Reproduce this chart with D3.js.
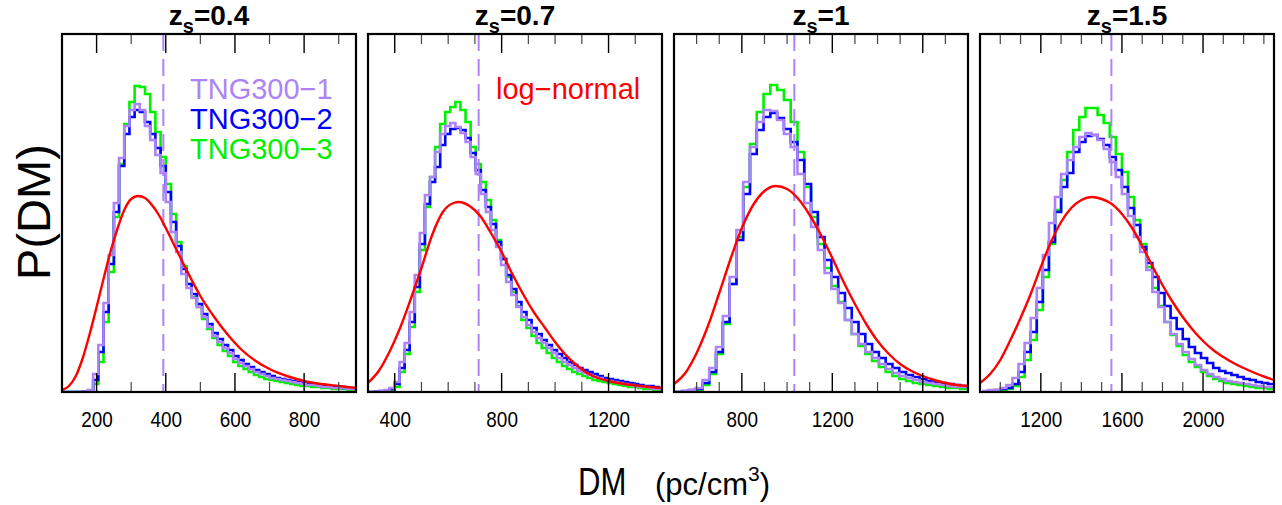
<!DOCTYPE html>
<html><head><meta charset="utf-8">
<script src="https://cdn.jsdelivr.net/npm/d3@7"></script>
<style>body{margin:0;background:#fff}svg{display:block}</style>
</head><body>
<svg id="chart" width="1282" height="505"></svg>
<script>
// ---------------- data ----------------
const redshifts = ["0.4", "0.7", "1", "1.5"];
const dmDomains = [[100, 950], [300, 1400], [500, 1800], [900, 2350]];
const majorTicks = [[200, 400, 600, 800], [400, 800, 1200], [800, 1200, 1600], [1200, 1600, 2000]];
const minorStep = 100;
const binStart = [100, 304, 506, 910];
const binWidth = [15, 19, 30, 30];
const meanDM = [393, 714, 1032, 1548];
const seriesNames = ["TNG300\u22121", "TNG300\u22122", "TNG300\u22123"];
const fitName = "log\u2212normal";

// P(DM), arbitrary normalisation, one value per DM bin
const tng1_z04 = [0,0,0,0,0.5, 2,18,47,89,137, 189,234,266,282,288, 282,266,252,237,219, 190,160,140,118,104, 94,85,75,65,56, 50,44,39,33,29, 26,23,20,18,16, 14,13,12,11,10, 9,8,7,7,6, 5,5,4,4,4, 3,3];
const tng2_z04 = [0,0,0,0,0.5, 1,12,40,80,128, 180,226,258,275,282, 280,270,258,244,226, 200,170,146,123,108, 98,88,78,68,59, 53,47,42,36,32, 28,25,22,20,18, 16,14,13,12,11, 10,9,8,8,7, 6,6,5,5,4, 4,4];
const tng3_z04 = [0,0,0,0,0, 0,8,30,70,120, 175,228,268,290,306, 305,298,280,260,235, 208,178,150,126,108, 95,85,73,63,54, 47,41,36,30,26, 23,20,17,15,13, 12,11,10,9,8, 7,6,6,5,5, 4,4,3,3,3, 2,2];

const tng1_z07 = [0,0.5,1,2,4, 10,30,49,80,117, 159,197,215,240,258, 266,269,265,259,250, 235,218,198,180,162, 145,127,110,97,85, 75,67,60,54,49, 44,39,34,30,27, 24,21,19,17,15, 14,12,11,10,9, 8,7,6,5,5, 4,3,3];
const tng2_z07 = [0,0.5,1,1,3, 8,24,42,70,105, 148,188,210,225,247, 258,263,264,262,254, 239,222,202,185,168, 150,133,117,103,90, 80,72,64,58,52, 47,42,38,34,30, 27,24,22,20,18, 16,14,13,12,11, 10,9,8,7,6, 6,5,4];
const tng3_z07 = [0,0,0.5,1,2, 5,20,38,65,100, 142,185,215,245,268, 280,285,290,282,270, 245,228,210,192,172, 152,133,115,100,86, 72,64,56,49,44, 39,34,30,26,23, 20,18,16,14,12, 11,10,9,8,7, 6,5,5,4,3, 3,2,2];

const tng1_z1 = [0,1,2,4,12, 24,45,76,115,162, 210,245,270,282,281, 272,258,245,218,189, 165,142,119,103,89, 72,58,48,40,34, 28,23,19,16,14, 12,10,9,8,7, 6,5,5];
const tng2_z1 = [0,1,2,3,9, 20,40,70,108,152, 198,238,262,275,279, 274,263,250,232,208, 180,155,132,115,99, 84,70,58,48,40, 34,28,24,20,17, 15,13,11,10,9, 8,7,6];
const tng3_z1 = [0,0,1,2,7, 18,38,68,108,155, 205,248,280,298,307, 302,292,270,240,205, 175,148,124,106,90, 72,58,46,38,31, 25,20,16,13,11, 9,8,7,6,5, 4,4,3];

const tng1_z15 = [1,2,2,4,7, 14,28,49,74,104, 137,169,195,218,232, 245,255,259,257,252, 243,230,215,198,176, 155,140,122,100,85, 70,58,48,40,33, 27,22,18,15,13, 11,10,9,8,7, 6,5,5];
const tng2_z15 = [0,1,2,3,4, 8,20,40,60,90, 122,150,180,205,219, 240,250,256,257,253, 247,235,222,205,184, 167,145,129,115,99, 86,74,63,53,45, 39,34,29,24,21, 19,17,15,13,12, 10,9,8];
const tng3_z15 = [0,0,1,2,3, 6,15,32,52,82, 115,148,182,212,240, 262,275,284,284,277, 269,255,238,220,195, 172,148,125,104,86, 70,57,46,37,30, 25,20,16,13,11, 9,8,7,6,5, 4,4,3];

// log-normal fit, sampled along DM
const fitDM_z04 = [100,120,140,160,180,200,220,240,260,280,300,320,340,360,380,400,430,460,500,540,580,620,660,700,750,800,850,900,950];
const fitP_z04  = [2,6,16,34,58,85,113,140,163,182,193,196,194,187,177,164,143,122,96,75,57,42,31,23,16,11,8,6,4];
const fitDM_z07 = [300,340,380,420,460,500,540,580,620,640,680,720,760,800,840,880,920,960,1000,1040,1080,1120,1160,1200,1260,1320,1400];
const fitP_z07  = [9,21,40,64,93,124,157,180,189,190,186,176,159,140,118,98,80,65,50,37,27,19,14,11,8,6,4];
const fitDM_z1  = [500,550,600,650,700,750,800,850,900,950,1000,1050,1100,1150,1200,1250,1300,1350,1400,1450,1500,1550,1600,1650,1700,1750,1800];
const fitP_z1   = [8,19,39,66,99,133,164,187,201,206,203,193,177,157,134,110,88,68,51,38,28,21,16,12,9,7,6];
const fitDM_z15 = [900,950,1000,1050,1100,1150,1200,1250,1300,1350,1400,1450,1500,1550,1600,1650,1700,1750,1800,1850,1900,1950,2000,2050,2100,2150,2200,2250,2300,2350];
const fitP_z15  = [9,18,32,52,74,98,125,150,170,184,192,195,193,188,178,164,146,126,107,90,75,62,51,42,35,29,24,19.5,15.5,12];

const yMax = 358;

const hists = [
  [tng1_z04, tng2_z04, tng3_z04],
  [tng1_z07, tng2_z07, tng3_z07],
  [tng1_z1, tng2_z1, tng3_z1],
  [tng1_z15, tng2_z15, tng3_z15]
];
const fits = [[fitDM_z04, fitP_z04], [fitDM_z07, fitP_z07], [fitDM_z1, fitP_z1], [fitDM_z15, fitP_z15]];

// ---------------- layout / style ----------------
const colors = ["#ad84f7", "#0000ff", "#00f000"];
const fitColor = "#ff0000";
const plotTop = 34, plotBottom = 392, panelW = 294, panelStep = 306, firstLeft = 62;
const sans = "'Liberation Sans',Arial,Helvetica,sans-serif";

const svg = d3.select("#chart");
const defs = svg.append("defs");

redshifts.forEach((z, p) => {
  const left = firstLeft + p * panelStep;
  const x = d3.scaleLinear().domain(dmDomains[p]).range([left, left + panelW]);
  const y = d3.scaleLinear().domain([0, yMax]).range([plotBottom, plotTop]);
  const g = svg.append("g");

  defs.append("clipPath").attr("id", "clip" + p)
    .append("rect").attr("x", left).attr("y", plotTop).attr("width", panelW).attr("height", plotBottom - plotTop);
  const plot = g.append("g").attr("clip-path", `url(#clip${p})`);

  [2, 1, 0].forEach(s => {
    const vals = hists[p][s];
    const pts = vals.map((v, i) => [binStart[p] + i * binWidth[p], v]);
    pts.push([binStart[p] + vals.length * binWidth[p], vals[vals.length - 1]]);
    const line = d3.line().x(d => x(d[0])).y(d => y(d[1])).curve(d3.curveStepAfter);
    plot.append("path").attr("d", line(pts)).attr("fill", "none")
      .attr("stroke", colors[s]).attr("stroke-width", 2.6).attr("stroke-linejoin", "miter");
  });

  plot.append("line").attr("x1", x(meanDM[p])).attr("x2", x(meanDM[p]))
    .attr("y1", plotTop).attr("y2", plotBottom)
    .attr("stroke", colors[0]).attr("stroke-width", 2).attr("stroke-dasharray", "17,8");

  const fitPts = fits[p][0].map((d, i) => [d, fits[p][1][i]]);
  plot.append("path").attr("d", d3.line().x(d => x(d[0])).y(d => y(d[1])).curve(d3.curveMonotoneX)(fitPts))
    .attr("fill", "none").attr("stroke", fitColor).attr("stroke-width", 2.4);

  const minor = d3.range(Math.ceil(dmDomains[p][0] / minorStep) * minorStep, dmDomains[p][1] + 1, minorStep)
    .filter(v => !majorTicks[p].includes(v));
  const tickG = g.append("g");
  minor.forEach(v => {
    tickG.append("line").attr("x1", x(v)).attr("x2", x(v)).attr("y1", plotBottom).attr("y2", plotBottom - 10).attr("stroke", "#444").attr("stroke-width", 1.2);
    tickG.append("line").attr("x1", x(v)).attr("x2", x(v)).attr("y1", plotTop).attr("y2", plotTop + 10).attr("stroke", "#444").attr("stroke-width", 1.2);
  });
  majorTicks[p].forEach(v => {
    tickG.append("line").attr("x1", x(v)).attr("x2", x(v)).attr("y1", plotBottom).attr("y2", plotBottom - 19).attr("stroke", "#000").attr("stroke-width", 1.4);
    tickG.append("line").attr("x1", x(v)).attr("x2", x(v)).attr("y1", plotTop).attr("y2", plotTop + 19).attr("stroke", "#000").attr("stroke-width", 1.4);
  });

  const ax = g.append("g").attr("transform", `translate(0,${plotBottom})`)
    .call(d3.axisBottom(x).tickValues(majorTicks[p]).tickSize(0).tickPadding(19).tickFormat(d3.format("d")));
  ax.select(".domain").remove();
  ax.selectAll("text").attr("font-family", sans).attr("font-size", 22).attr("fill", "#000")
    .attr("transform", "scale(0.86,1)");

  g.append("rect").attr("x", left).attr("y", plotTop).attr("width", panelW).attr("height", plotBottom - plotTop)
    .attr("fill", "none").attr("stroke", "#000").attr("stroke-width", 2.2);

  const t = g.append("text").attr("x", left + panelW / 2).attr("y", 25)
    .attr("text-anchor", "middle").attr("font-family", sans).attr("font-weight", "bold").attr("font-size", 28);
  t.append("tspan").text("z");
  t.append("tspan").attr("font-size", 20).attr("dy", 8).text("s");
  t.append("tspan").attr("dy", -8).text("=" + z);
});

seriesNames.forEach((n, i) => {
  svg.append("text").attr("x", 190).attr("y", 99 + i * 30).attr("font-family", sans).attr("font-size", 29)
    .attr("fill", colors[i]).text(n);
});
svg.append("text").attr("x", 496).attr("y", 99).attr("font-family", sans).attr("font-size", 29)
  .attr("fill", fitColor).text(fitName);

svg.append("text").attr("transform", "translate(50,212) rotate(-90)").attr("text-anchor", "middle")
  .attr("font-family", sans).attr("font-size", 47).text("P(DM)");

svg.append("g").attr("transform", "translate(578,495) scale(0.82,1)")
  .append("text").attr("x", 0).attr("y", 0).attr("font-family", sans).attr("font-size", 38).text("DM");
const unit = svg.append("text").attr("x", 655).attr("y", 495).attr("font-family", sans).attr("font-size", 31);
unit.append("tspan").text("(pc/cm");
unit.append("tspan").attr("font-size", 21).attr("dy", -14).text("3");
unit.append("tspan").attr("dy", 14).text(")");
</script>
</body></html>
